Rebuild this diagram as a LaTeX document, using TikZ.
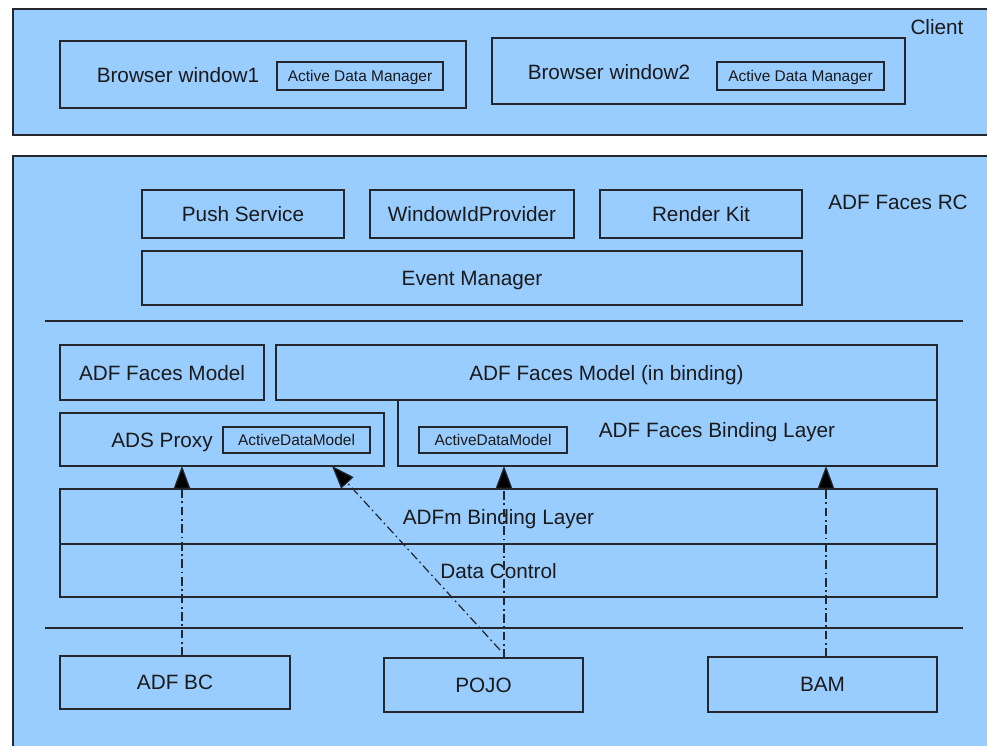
\documentclass[tikz,border=0pt]{standalone}
\usepackage{fontspec}
\setmainfont{Liberation Sans}
\usetikzlibrary{arrows.meta, positioning, calc}
\definecolor{adfblue}{HTML}{99CCFF}
\definecolor{adfline}{HTML}{23272E}
\definecolor{adftext}{HTML}{1A1A1A}

\begin{document}
\begin{tikzpicture}[x=0.2mm, y=-0.2mm, every node/.style={text=adftext},
  layer/.style={draw=adfline, fill=adfblue, line width=0.7pt},
  compbox/.style={rectangle, draw=adfline, line width=0.7pt, inner sep=0pt, outer sep=0pt, text depth=0pt, font=\fontsize{11.8}{13}\selectfont},
  smallbox/.style={rectangle, draw=adfline, line width=0.7pt, inner sep=0pt, outer sep=0pt, text depth=0pt, font=\fontsize{8.8}{10}\selectfont},
  lbl/.style={font=\fontsize{11.8}{13}\selectfont, inner sep=0pt, text depth=0pt},
  sepline/.style={draw=adfline, line width=0.7pt},
  flow/.style={draw=adfline, line width=0.7pt, dash pattern=on 5pt off 2pt on 1pt off 2pt, -{Triangle[length=13pt, width=9.5pt, fill=black]}},
]
\clip (0,0) rectangle (987,746);
\fill[white] (0,0) rectangle (987,746);
% client tier
\draw[layer] (13,9) rectangle (1010,135);
\node[lbl] (client) at (937,27) {Client};
\node[compbox, minimum width=81.2mm, minimum height=13.4mm] (bw1) at (263,74.5) {};
\node[lbl] (bw1lbl) at (178,75) {Browser window1};
\node[smallbox, minimum width=33.2mm, minimum height=5.6mm] (adm1) at (360,76) {Active Data Manager};
\node[compbox, minimum width=82.6mm, minimum height=13.2mm] (bw2) at (698.5,71) {};
\node[lbl] (bw2lbl) at (609,72) {Browser window2};
\node[smallbox, minimum width=33.4mm, minimum height=5.6mm] (adm2) at (800.5,76) {Active Data Manager};
% server tier
\draw[layer] (13,156) rectangle (1010,760);
\node[lbl] (rc) at (898,202) {ADF Faces RC};
\node[compbox, minimum width=40.4mm, minimum height=9.6mm] (push) at (243,214) {Push Service};
\node[compbox, minimum width=40.8mm, minimum height=9.6mm] (winid) at (472,214) {WindowIdProvider};
\node[compbox, minimum width=40.4mm, minimum height=9.6mm] (render) at (701,214) {Render Kit};
\node[compbox, minimum width=132mm, minimum height=10.8mm] (event) at (472,278) {Event Manager};
\draw[sepline] (45,321) -- (963,321);
\node[compbox, minimum width=40.8mm, minimum height=11mm] (fmodel) at (162,372.5) {ADF Faces Model};
\node[compbox, minimum width=132.2mm, minimum height=11mm] (fmodelb) at (606.5,372.5) {ADF Faces Model (in binding)};
\node[compbox, minimum width=64.8mm, minimum height=10.6mm] (proxy) at (222,439.5) {};
\node[lbl] (proxylbl) at (162,440) {ADS Proxy};
\node[smallbox, minimum width=29.4mm, minimum height=5.2mm] (adm3) at (296.5,440) {ActiveDataModel};
\node[compbox, minimum width=107.8mm, minimum height=13.2mm] (fbind) at (667.5,433) {};
\node[lbl] (fbindlbl) at (717,430) {ADF Faces Binding Layer};
\node[smallbox, minimum width=29.6mm, minimum height=5.2mm] (adm4) at (493,440) {ActiveDataModel};
\node[compbox, minimum width=175.4mm, minimum height=11mm] (adfm) at (498.5,516.5) {ADFm Binding Layer};
\node[compbox, minimum width=175.4mm, minimum height=10.6mm] (dc) at (498.5,570.5) {Data Control};
\draw[sepline] (45,628) -- (963,628);
\node[compbox, minimum width=46mm, minimum height=10.6mm] (bc) at (175,682.5) {ADF BC};
\node[compbox, minimum width=39.8mm, minimum height=10.8mm] (pojo) at (483.5,685) {POJO};
\node[compbox, minimum width=45.8mm, minimum height=11mm] (bam) at (822.5,684.5) {BAM};
% data flow
\draw[flow] ([xshift=1.4mm]bc.north) -- ([xshift=1.4mm]bc.north |- proxy.south);
\draw[flow] ([xshift=4.1mm]pojo.north) -- ([xshift=4.1mm]pojo.north |- fbind.south);
\draw[flow] ([xshift=3.3mm, yshift=1.6mm]pojo.north) -- ([xshift=22mm]proxy.south);
\draw[flow] ([xshift=0.7mm]bam.north) -- ([xshift=0.7mm]bam.north |- fbind.south);
\end{tikzpicture}
\end{document}
